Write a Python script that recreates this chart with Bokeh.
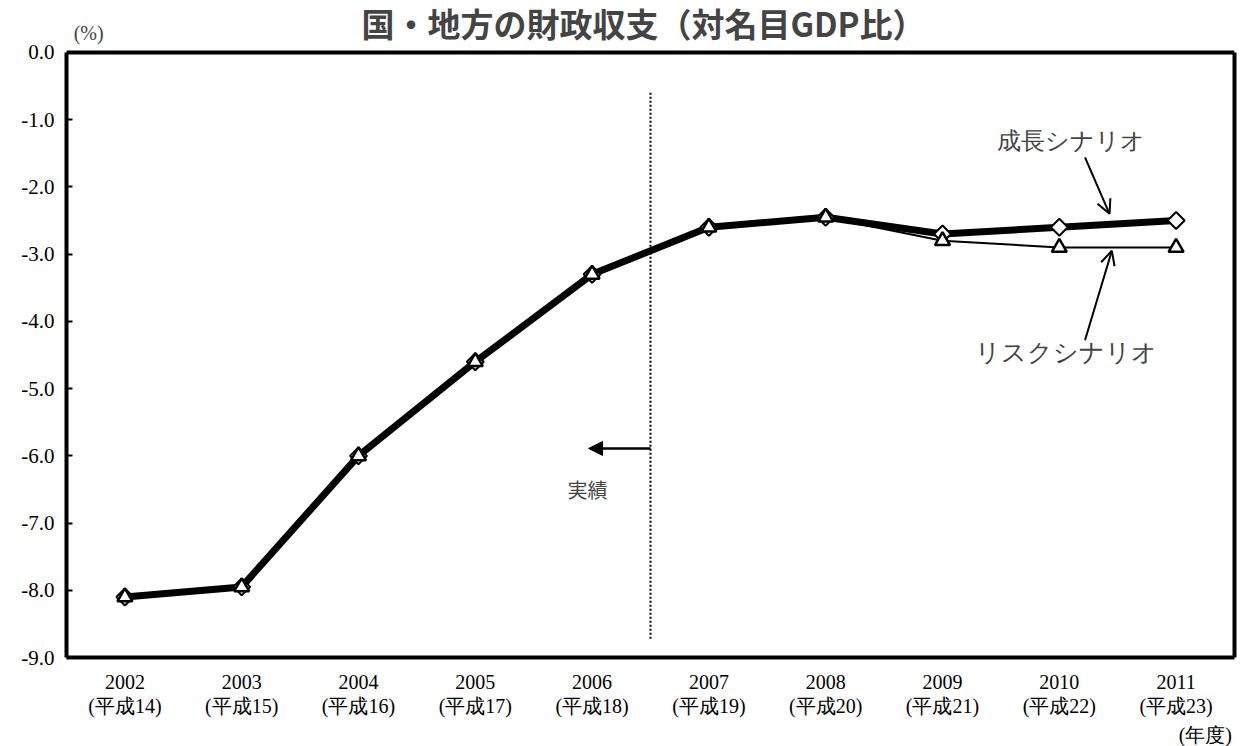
import math
from bokeh.plotting import figure
from bokeh.models import (Range1d, Label, Arrow, NormalHead, OpenHead, FixedTicker,
                          NumeralTickFormatter, LinearAxis)
from bokeh.embed import file_html
from bokeh.resources import INLINE

# ---- data ----
years = [2002, 2003, 2004, 2005, 2006, 2007, 2008, 2009, 2010, 2011]
year_labels = ["2002\n(平成14)", "2003\n(平成15)", "2004\n(平成16)", "2005\n(平成17)",
               "2006\n(平成18)", "2007\n(平成19)", "2008\n(平成20)", "2009\n(平成21)",
               "2010\n(平成22)", "2011\n(平成23)"]
growth = [-8.1, -7.95, -6.0, -4.6, -3.3, -2.6, -2.45, -2.7, -2.6, -2.5]
risk = [-8.1, -7.95, -6.0, -4.6, -3.3, -2.6, -2.45, -2.8, -2.9, -2.9]
y_ticks = [0, -1, -2, -3, -4, -5, -6, -7, -8, -9]
y_min, y_max = -9, 0
boundary_year = 2006.5
unit_x_label = "(年度)"

# ---- layout constants ----
x_lo, x_hi = 2001.5, 2011.5
top_room = 0.7735          # space above y=0 (in data units) for the title row
unit_x_pos = 2011.25
SERIF = "Liberation Serif"
SANS = "Noto Sans CJK JP"

p = figure(frame_width=1168, frame_height=657, output_backend="svg", toolbar_location=None,
           x_range=Range1d(x_lo, x_hi), y_range=Range1d(y_min, y_max + top_room),
           min_border_left=66, min_border_right=6, min_border_top=0, min_border_bottom=0)

p.outline_line_color = None
p.xgrid.visible = False
p.ygrid.visible = False
p.background_fill_color = "white"
p.border_fill_color = "white"

# left axis
p.yaxis.ticker = FixedTicker(ticks=y_ticks)
p.yaxis.bounds = (y_min, y_max)
p.yaxis.formatter = NumeralTickFormatter(format="0.0")
p.yaxis.axis_line_color = "black"
p.yaxis.axis_line_width = 4
p.yaxis.major_tick_in = 6
p.yaxis.major_tick_out = 0
p.yaxis.major_tick_line_width = 2
p.yaxis.minor_tick_line_color = None
p.yaxis.major_label_text_font = SERIF
p.yaxis.major_label_text_font_size = "21px"
p.yaxis.major_label_text_color = "black"
p.yaxis.major_label_standoff = 12

# bottom axis
p.xaxis.ticker = FixedTicker(ticks=years)
p.xaxis.major_label_overrides = {y: lab for y, lab in zip(years, year_labels)}
p.xaxis.axis_line_color = "black"
p.xaxis.axis_line_width = 4
p.xaxis.major_tick_line_color = None
p.xaxis.minor_tick_line_color = None
p.xaxis.major_label_text_font = SERIF
p.xaxis.major_label_text_font_size = "20px"
p.xaxis.major_label_text_line_height = 1.1
p.xaxis.major_label_text_color = "black"
p.xaxis.major_label_standoff = 7

# second bottom axis carrying the "(年度)" unit
unit_axis = LinearAxis(ticker=FixedTicker(ticks=[unit_x_pos]),
                       major_label_overrides={unit_x_pos: unit_x_label},
                       axis_line_color=None, major_tick_line_color=None,
                       minor_tick_line_color=None, major_tick_in=0, major_tick_out=0,
                       major_label_standoff=4, major_label_text_font=SERIF,
                       major_label_text_font_size="20px", major_label_text_color="black")
p.add_layout(unit_axis, "below")

# right border of the plot box
right_axis = LinearAxis(ticker=FixedTicker(ticks=[]), bounds=(y_min, y_max),
                        axis_line_color="black", axis_line_width=4,
                        major_tick_line_color=None, minor_tick_line_color=None,
                        major_label_text_font_size="0px", major_label_standoff=0,
                        major_tick_out=0)
p.add_layout(right_axis, "right")

# top border of the plot box
p.segment(x0=[x_lo], y0=[y_max], x1=[x_hi], y1=[y_max], line_color="black", line_width=4)

# series
p.line(years, growth, line_color="black", line_width=7)
p.scatter(years, growth, marker="square", angle=math.pi / 4, size=12, fill_color="white",
          line_color="black", line_width=2)
p.line(years, risk, line_color="black", line_width=2)
p.scatter(years, risk, marker="triangle", size=15, fill_color="white",
          line_color="black", line_width=2.5)

# boundary line and arrow
p.segment(x0=[boundary_year], y0=[-0.6], x1=[boundary_year], y1=[-8.75],
          line_color="black", line_width=2, line_dash="2 2")
p.add_layout(Arrow(end=NormalHead(size=14, fill_color="black", line_color="black"),
                   x_start=boundary_year, y_start=-5.89, x_end=2005.97, y_end=-5.89,
                   line_width=2.5, line_color="black"))
p.add_layout(Label(x=2005.96, y=-6.5, text="実績", text_font=SANS, text_font_size="20px",
                   text_align="center", text_baseline="middle"))

# scenario annotations
p.add_layout(Label(x=2010.10, y=-1.31, text="成長シナリオ", text_font=SERIF, text_font_size="24px",
                   text_align="center", text_baseline="middle"))
p.add_layout(Arrow(end=OpenHead(size=14, line_width=2), x_start=2010.22, y_start=-1.56,
                   x_end=2010.43, y_end=-2.40, line_width=2))
p.add_layout(Label(x=2010.06, y=-4.46, text="リスクシナリオ", text_font=SERIF, text_font_size="25px",
                   text_align="center", text_baseline="middle"))
p.add_layout(Arrow(end=OpenHead(size=14, line_width=2), x_start=2010.22, y_start=-4.28,
                   x_end=2010.45, y_end=-2.95, line_width=2))

# title and unit (in the strip above y = 0)
p.add_layout(Label(x=2006.44, y=0.446, text="国・地方の財政収支（対名目GDP比）", text_font=SANS,
                   text_font_size="33px", text_font_style="bold",
                   text_align="center", text_baseline="middle"))
p.add_layout(Label(x=2001.69, y=0.283, text="(%)", text_font=SERIF, text_font_size="20px",
                   text_align="center", text_baseline="middle"))

open("out.html", "w").write(file_html(p, INLINE))
